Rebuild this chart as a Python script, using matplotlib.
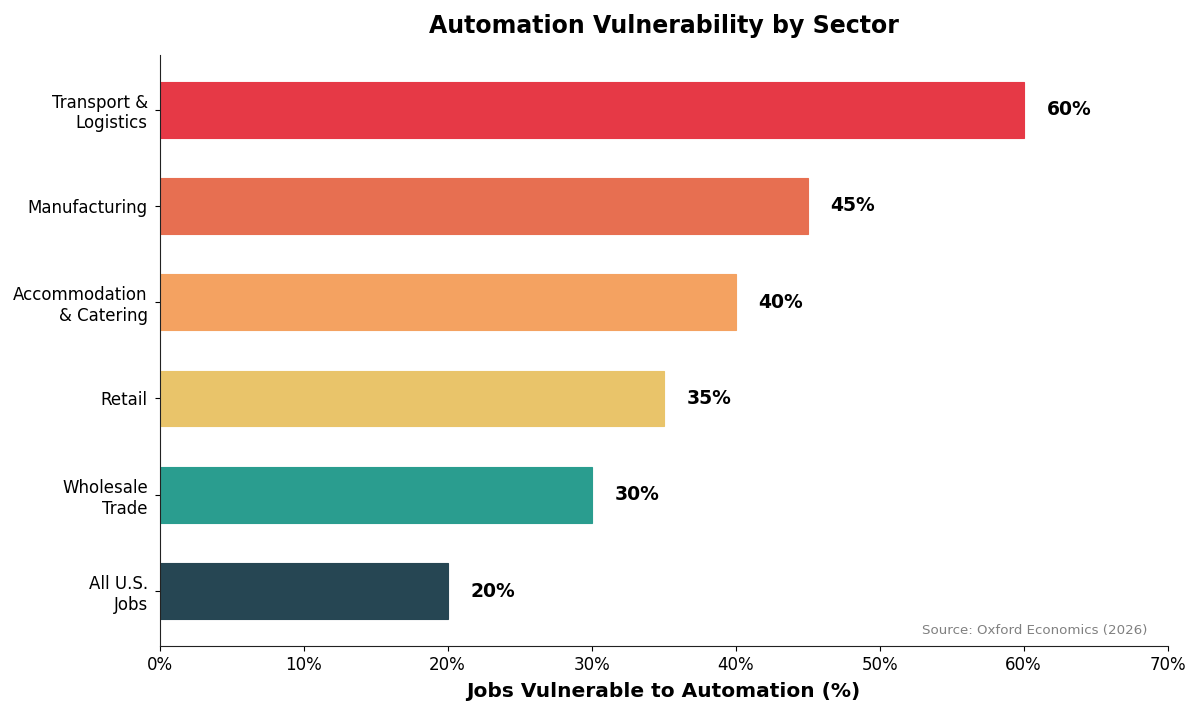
import matplotlib
matplotlib.use('Agg')
import matplotlib.pyplot as plt
from matplotlib.ticker import FuncFormatter

# --- Data ---
sectors = ['All U.S.\nJobs', 'Wholesale\nTrade', 'Retail',
           'Accommodation\n& Catering', 'Manufacturing', 'Transport &\nLogistics']
vulnerable = [20, 30, 35, 40, 45, 60]
colors = ['#264653', '#2A9D8F', '#E9C46A', '#F4A261', '#E76F51', '#E63946']

fig, ax = plt.subplots(figsize=(12, 7.12), dpi=100)

ypos = list(range(len(sectors)))
ax.barh(ypos, vulnerable, height=0.58, color=colors,
        edgecolor=colors, linewidth=0.8)

# value labels
for y, v in zip(ypos, vulnerable):
    ax.text(v + 1.6, y, f'{v}%', va='center', ha='left',
            fontsize=13.5, fontweight='bold', color='black')

ax.set_yticks(ypos)
ax.set_yticklabels(sectors, fontsize=12)
ax.tick_params(axis='y', pad=5)
ax.set_xlim(0, 70)
ax.set_xticks(range(0, 71, 10))
ax.xaxis.set_major_formatter(FuncFormatter(lambda x, _: f'{x:.0f}%'))
ax.tick_params(axis='x', labelsize=12)

ax.set_xlabel('Jobs Vulnerable to Automation (%)', fontsize=14.5, fontweight='bold', labelpad=6)
ax.set_title('Automation Vulnerability by Sector', fontsize=17, fontweight='bold', pad=16)

ax.spines['top'].set_visible(False)
ax.spines['right'].set_visible(False)
ax.spines['left'].set_color('#222222')
ax.spines['bottom'].set_color('#222222')

ax.text(0.98, 0.015, 'Source: Oxford Economics (2026)', transform=ax.transAxes,
        ha='right', va='bottom', fontsize=9.6, color='gray')

plt.subplots_adjust(left=0.133, right=0.973, top=0.923, bottom=0.093)
plt.savefig('out.png', dpi=100)
